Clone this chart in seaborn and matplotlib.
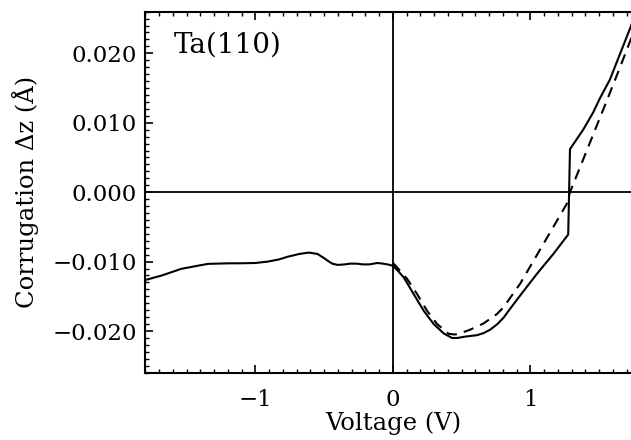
import numpy as np
import pandas as pd
import matplotlib
matplotlib.use("Agg")
import matplotlib.pyplot as plt
from matplotlib.ticker import MultipleLocator, FuncFormatter
import seaborn as sns

# Corrugation vs. bias voltage, full calculation (solid)
volt_full = [-1.80, -1.68, -1.54, -1.42, -1.345, -1.20, -1.10, -1.00, -0.91, -0.83,
             -0.765, -0.68, -0.61, -0.548, -0.50, -0.475, -0.44, -0.40, -0.35, -0.307,
             -0.26, -0.22, -0.17, -0.113, -0.07, -0.04, 0.00, 0.04, 0.08, 0.152,
             0.225, 0.297, 0.37, 0.43, 0.47, 0.527, 0.612, 0.66, 0.708, 0.76,
             0.804, 0.86, 0.925, 1.046, 1.167, 1.275, 1.288, 1.384, 1.457, 1.505,
             1.578, 1.723, 1.80]
corr_full = [-0.01265, -0.0120, -0.01105, -0.0106, -0.01033, -0.01025, -0.01024, -0.0102, -0.0100, -0.0097,
             -0.0093, -0.0089, -0.0087, -0.0089, -0.0095, -0.00986, -0.0103, -0.01048, -0.0104, -0.01029,
             -0.0103, -0.0104, -0.0104, -0.0102, -0.0103, -0.0104, -0.0106, -0.0114, -0.0123, -0.0147,
             -0.0171, -0.0190, -0.02035, -0.0210, -0.0210, -0.0208, -0.0206, -0.0203, -0.0198, -0.0190,
             -0.0181, -0.0166, -0.0149, -0.0118, -0.0089, -0.0061, 0.0062, 0.0090, 0.0115, 0.0135,
             0.0162, 0.0235, 0.0274]

# Approximate result for positive bias (dashed)
volt_approx = [0.00, 0.02, 0.104, 0.177, 0.249, 0.322, 0.406, 0.45, 0.478, 0.563,
               0.66, 0.757, 0.804, 0.925, 1.046, 1.167, 1.264, 1.288, 1.396, 1.481,
               1.554, 1.65, 1.73, 1.80]
corr_approx = [-0.0102, -0.0106, -0.0125, -0.0147, -0.0171, -0.0190, -0.0204, -0.0205, -0.0204, -0.0198,
               -0.0189, -0.01755, -0.0166, -0.0132, -0.0091, -0.0050, -0.0017, 0.0000, 0.0053, 0.0095,
               0.0131, 0.0179, 0.0220, 0.0256]

x_ticks = [-1, 0, 1]
y_ticks = [-0.020, -0.010, 0.000, 0.010, 0.020]

sns.set_style("ticks")
plt.rcParams["font.family"] = ["DejaVu Serif"]
plt.rcParams["mathtext.fontset"] = "dejavuserif"
plt.rcParams["text.color"] = "black"
plt.rcParams["axes.labelcolor"] = "black"
plt.rcParams["xtick.color"] = "black"
plt.rcParams["ytick.color"] = "black"

fig = plt.figure(figsize=(6.31, 4.40), dpi=100)
ax = fig.add_axes([0.2303, 0.153, 0.7846, 0.8205])

df_full = pd.DataFrame({"V": volt_full, "z": corr_full})
df_approx = pd.DataFrame({"V": volt_approx, "z": corr_approx})

ax.axhline(0, color="black", lw=1.3, zorder=1)
ax.axvline(0, color="black", lw=1.3, zorder=1)

sns.lineplot(data=df_full, x="V", y="z", ax=ax, color="black", lw=1.5,
             sort=False, estimator=None)
sns.lineplot(data=df_approx, x="V", y="z", ax=ax, color="black", lw=1.5,
             sort=False, estimator=None, linestyle=(0, (5, 3.5)))

ax.set_xlim(-1.8, 1.8)
ax.set_ylim(-0.026, 0.026)
ax.set_xticks(x_ticks)
ax.set_yticks(y_ticks)
ax.xaxis.set_minor_locator(MultipleLocator(0.1))
ax.yaxis.set_minor_locator(MultipleLocator(0.001))


def fmt_x(v, pos):
    return f"{v:.0f}".replace("-", "\u2212")


def fmt_y(v, pos):
    s = f"{v:.3f}"
    if s == "-0.000":
        s = "0.000"
    return s.replace("-", "\u2212")


ax.xaxis.set_major_formatter(FuncFormatter(fmt_x))
ax.yaxis.set_major_formatter(FuncFormatter(fmt_y))

ax.tick_params(which="both", direction="in", top=True, right=True, color="black")
ax.tick_params(which="major", length=6, width=1.2)
ax.tick_params(which="minor", length=3, width=1.0)
ax.tick_params(axis="y", which="major", labelsize=16.5, pad=6, labelcolor="black")
ax.tick_params(axis="x", which="major", labelsize=16.5, pad=12, labelcolor="black")

for sp in ax.spines.values():
    sp.set_linewidth(1.5)
    sp.set_color("black")

ax.set_xlabel("Voltage (V)", fontsize=17.5, color="black")
ax.set_ylabel("Corrugation \u0394z (\u00c5)", fontsize=17.5, color="black")
ax.xaxis.set_label_coords(0.5, -0.108)
ax.yaxis.set_label_coords(-0.215, 0.5)

ax.text(-1.595, 0.0212, "Ta(110)", fontsize=20, va="center", ha="left", color="black")

fig.savefig("out.png", dpi=100)
